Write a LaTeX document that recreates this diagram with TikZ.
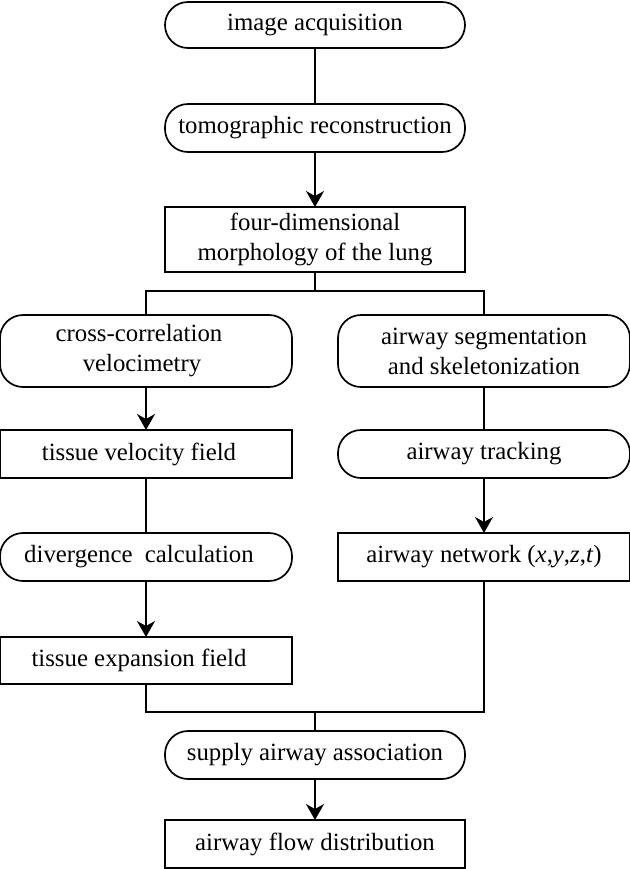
\documentclass[tikz,border=0pt]{standalone}
\usepackage{fontspec}
\setmainfont{Liberation Serif}
\usepackage{tikz}
\usetikzlibrary{shapes,positioning,calc}
\usetikzlibrary{arrows.meta}
\tikzstyle{arrow} = [->,>={Stealth[length=8pt,width=9pt,inset=2.5pt]}]

\begin{document}
\begin{tikzpicture}[line width=0.85pt,
	stage/.style={rectangle, draw, align=center, inner sep=0pt, outer sep=0pt, minimum height=24pt, font=\fontsize{12.4pt}{15pt}\selectfont},
	pill/.style={stage, rounded corners=11.5pt},
	wide/.style={minimum width=150pt},
	narrow/.style={minimum width=146pt},
	leftish/.style={execute at begin node=\hspace*{-7pt}}]
		
		\useasboundingbox (0,0) rectangle (315pt,-434.5pt);
		
		% TOP
		
		\node [pill, wide, minimum height=23pt] (imgacq) at (157.5pt,-12.5pt) {image acquisition};
		\node [pill, wide, below=28pt of imgacq] (tomo) {tomographic reconstruction};
		\node [stage, wide, minimum height=32.5pt, below=27.5pt of tomo] (morph) {four-dimensional\\morphology of the lung};
		\coordinate [below=9.5pt of morph] (split);
		
		% LEFT BRANCH
		
		\node [pill, narrow, minimum height=36pt, below=12pt of split, xshift=-84.5pt] (xcorr) {\hspace*{-7pt}cross-correlation\\\hspace*{-4pt}velocimetry};
		\node [stage, narrow, leftish, below=21.5pt of xcorr] (tvel) {tissue velocity field};
		\node [pill, narrow, leftish, below=27.5pt of tvel] (div) {divergence\ \ calculation};
		\node [stage, narrow, leftish, minimum height=23.5pt, below=28pt of div] (texp) {tissue expansion field};
		
		% RIGHT BRANCH
		
		\node [pill, narrow, minimum height=36pt, below=12pt of split, xshift=84.5pt] (segm) {airway segmentation\\and skeletonization};
		\node [pill, narrow, below=21.5pt of segm] (track) {airway tracking};
		\node [stage, narrow, below=27.5pt of track] (net) {airway network (\textit{x},\textit{y},\textit{z},\textit{t})};
		
		% BOTTOM
		
		\coordinate (mid) at (texp.south -| morph.south);
		\coordinate [below=14pt of mid] (join);
		\node [pill, wide, below=9.5pt of join] (supply) {supply airway association};
		\node [stage, wide, below=20.5pt of supply] (flow) {airway flow distribution};
		
		% CONNECTIONS
		
		\draw (imgacq) -- (tomo);
		\draw [arrow] (tomo) -- (morph);
		\draw (morph) -- (split);
		\draw (xcorr.north) |- (split) -| (segm.north);
		\draw [arrow] (xcorr) -- (tvel);
		\draw (tvel) -- (div);
		\draw [arrow] (div) -- (texp);
		\draw (segm) -- (track);
		\draw [arrow] (track) -- (net);
		\draw (texp.south) |- (join) -| (net.south);
		\draw (join) -- (supply);
		\draw [arrow] (supply) -- (flow);
		
\end{tikzpicture}
\end{document}
